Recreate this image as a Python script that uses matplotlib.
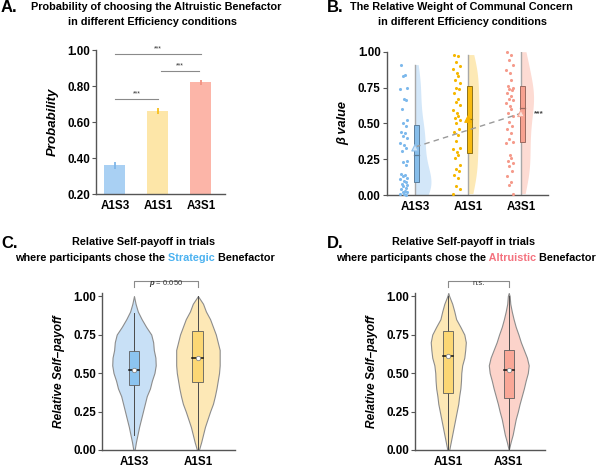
import matplotlib
matplotlib.use('Agg')
import matplotlib.pyplot as plt
from matplotlib.patches import Rectangle
import numpy as np

plt.rcParams['font.family'] = ['Liberation Sans', 'DejaVu Sans']
plt.rcParams['font.weight'] = 'bold'
plt.rcParams['mathtext.fontset'] = 'custom'
plt.rcParams['mathtext.it'] = 'Liberation Sans:italic'
plt.rcParams['mathtext.rm'] = 'Liberation Sans'

# ---------------- data ----------------
# A: probability of choosing the altruistic benefactor
conds_a = ['A1S3', 'A1S1', 'A3S1']
prob_mean = [0.36, 0.66, 0.82]
prob_se = [0.02, 0.018, 0.016]
sig_a_from = [1, 2.07, 1]
sig_a_to = [3, 2.95, 2]
sig_a_y = [0.98, 0.885, 0.727]
sig_a_txt = ['***', '***', '***']

# B: beta values per participant
conds_b = ['A1S3', 'A1S1', 'A3S1']
beta_a1s3 = [0.91, 0.84, 0.83, 0.75, 0.74, 0.67, 0.66, 0.60, 0.52, 0.50,
             0.48, 0.44, 0.43, 0.41, 0.40, 0.36, 0.35, 0.33, 0.31, 0.24,
             0.23, 0.21, 0.15, 0.14, 0.13, 0.12, 0.11, 0.10, 0.09, 0.08,
             0.07, 0.06, 0.05, 0.04, 0.03, 0.02, 0.02, 0.01, 0.01, 0.00]
beta_a1s1 = [0.98, 0.97, 0.93, 0.90, 0.88, 0.85, 0.83, 0.80, 0.78, 0.75,
             0.74, 0.71, 0.67, 0.65, 0.63, 0.59, 0.57, 0.55, 0.54, 0.52,
             0.50, 0.46, 0.44, 0.42, 0.38, 0.33, 0.32, 0.30, 0.28, 0.26,
             0.21, 0.18, 0.17, 0.14, 0.12, 0.06, 0.04, 0.01]
beta_a3s1 = [1.00, 0.98, 0.94, 0.91, 0.87, 0.85, 0.80, 0.76, 0.75, 0.74,
             0.73, 0.71, 0.69, 0.67, 0.66, 0.64, 0.62, 0.60, 0.57, 0.55,
             0.51, 0.48, 0.46, 0.43, 0.39, 0.37, 0.36, 0.28, 0.26, 0.24,
             0.22, 0.20, 0.17, 0.13, 0.09, 0.07, 0.01]
beta_q1 = [0.09, 0.29, 0.37]
beta_med = [0.28, 0.53, 0.61]
beta_q3 = [0.49, 0.76, 0.76]
beta_mean = [0.33, 0.53, 0.57]
trend_ends = [0.335, 0.57]

# C / D: relative self-payoff (violin outlines)
levels_c = [0.00, 0.05, 0.10, 0.15, 0.20, 0.25, 0.30, 0.35, 0.40, 0.45, 0.50,
            0.55, 0.60, 0.65, 0.70, 0.75, 0.80, 0.85, 0.90, 0.95, 1.00]
conds_c = ['A1S3', 'A1S1']
width_c_a1s3 = [0.01, 0.03, 0.055, 0.08, 0.11, 0.14, 0.17, 0.20, 0.25, 0.28, 0.32,
                0.34, 0.335, 0.31, 0.30, 0.27, 0.19, 0.12, 0.06, 0.025, 0.0]
width_c_a1s1 = [0.015, 0.05, 0.08, 0.11, 0.15, 0.19, 0.235, 0.265, 0.29, 0.31, 0.33,
                0.34, 0.34, 0.34, 0.31, 0.28, 0.235, 0.19, 0.125, 0.08, 0.0]
c_q1 = [0.42, 0.44]
c_med = [0.52, 0.60]
c_q3 = [0.64, 0.77]
c_mean = [0.52, 0.60]
c_lo = [0.10, 0.0]
c_hi = [0.89, 1.0]
c_p = '$p$ = 0.050'

levels_d = [0.00, 0.05, 0.10, 0.15, 0.20, 0.25, 0.30, 0.35, 0.40, 0.45, 0.50,
            0.55, 0.60, 0.65, 0.70, 0.75, 0.80, 0.85, 0.90, 0.95, 1.00, 1.02]
conds_d = ['A1S1', 'A3S1']
width_d_a1s1 = [0.015, 0.04, 0.065, 0.09, 0.115, 0.14, 0.165, 0.18, 0.2, 0.21, 0.215,
                0.23, 0.265, 0.28, 0.29, 0.265, 0.2, 0.13, 0.1, 0.065, 0.015, 0.0]
width_d_a3s1 = [0.0, 0.03, 0.065, 0.09, 0.115, 0.15, 0.18, 0.215, 0.25, 0.28, 0.315,
                0.33, 0.3, 0.25, 0.2, 0.16, 0.115, 0.08, 0.05, 0.025, 0.015, 0.0]
d_q1 = [0.37, 0.34]
d_med = [0.61, 0.52]
d_q3 = [0.77, 0.65]
d_mean = [0.61, 0.52]
d_lo = [0.0, 0.0]
d_hi = [1.0, 1.0]
d_p = 'n.s.'

# colours
bar_cols = ['#a9d0f3', '#fde6a8', '#fcb5a8']
err_cols = ['#7fb6e8', '#f7bf1e', '#f29282']
pt_cols = ['#7db9ec', '#f6b700', '#f59a8b']
vio_b_cols = ['#d3e7f9', '#fde9b5', '#fddbd3']
box_b_cols = ['#86bdea', '#f8bb10', '#f7a190']
box_b_edge = ['#5c7e9c', '#8c7019', '#9a6a60']
vio_c = {'A1S3': '#c8e0f6', 'A1S1': '#fde8b6', 'A3S1': '#fcd3ca'}
box_c = {'A1S3': '#8cc4f0', 'A1S1': '#fcd774', 'A3S1': '#f9a797'}

axis_col = '#555555'


def style_axis(ax):
    for s in ['top', 'right']:
        ax.spines[s].set_visible(False)
    for s in ['left', 'bottom']:
        ax.spines[s].set_color(axis_col)
        ax.spines[s].set_linewidth(1.0)
    ax.tick_params(axis='y', length=3, width=0.8, color=axis_col, labelsize=8.4, pad=1.5)
    ax.tick_params(axis='x', length=0, labelsize=8.4, pad=4)


def r_kde(vals, grid):
    v = np.asarray(vals)
    n = len(v)
    sd = v.std(ddof=1)
    iqr = np.subtract(*np.percentile(v, [75, 25]))
    bw = 0.9 * min(sd, iqr / 1.34) * n ** -0.2
    z = (grid[:, None] - v[None, :]) / bw
    return np.exp(-0.5 * z ** 2).sum(1) / (n * bw * np.sqrt(2 * np.pi))


fig = plt.figure(figsize=(6, 4.68), dpi=100)
H = 468.0

# ---------------- A ----------------
axA = fig.add_axes([0.16, 1 - 194 / H, 0.215, 144 / H])
xa = np.arange(1, len(conds_a) + 1)
axA.bar(xa, prob_mean, width=0.49, color=bar_cols, zorder=1)
axA.vlines(xa, np.array(prob_mean) - prob_se, np.array(prob_mean) + prob_se,
           colors=err_cols, lw=1.3, zorder=2)
for x0, x1, y, t in zip(sig_a_from, sig_a_to, sig_a_y, sig_a_txt):
    axA.plot([x0, x1], [y, y], color='#8a8a8a', lw=0.8)
    axA.text((x0 + x1) / 2, y + 0.008, t, ha='center', va='bottom', fontsize=5,
             color='#333333', weight='normal')
axA.set_xlim(0.56, 3.56)
axA.set_ylim(0.2, 1.0)
axA.set_yticks([0.2, 0.4, 0.6, 0.8, 1.0])
axA.set_yticklabels(['%.2f' % v for v in [0.2, 0.4, 0.6, 0.8, 1.0]])
axA.set_xticks(xa)
axA.set_xticklabels(conds_a)
axA.set_ylabel('Probability', fontsize=9.5, style='italic', weight='bold', labelpad=6)
style_axis(axA)

# ---------------- B ----------------
axB = fig.add_axes([0.645, 1 - 195 / H, 0.2683, 143.3 / H])
groups_b = [beta_a1s3, beta_a1s1, beta_a3s1]
grids = [np.linspace(min(g), max(g), 120) for g in groups_b]
dens = [r_kde(g, gr) for g, gr in zip(groups_b, grids)]
k = 0.3 / max(d.max() for d in dens)
jitter = [-0.05, 0.02, -0.02, 0.05, -0.07, 0.0, 0.03, -0.03, 0.06, -0.01, 0.04]
for i, g in enumerate(groups_b):
    x = i + 1
    axB.fill_betweenx(grids[i], x, x + dens[i] * k, color=vio_b_cols[i], lw=0, zorder=1)
    axB.plot([x, x], [min(g), max(g)], color='#a8a8a8', lw=1.0, zorder=2)
    jx = x - 0.21 + np.resize(jitter, len(g))
    axB.scatter(jx, g, s=5, color=pt_cols[i], lw=0, zorder=3, clip_on=False)
    axB.add_patch(Rectangle((x - 0.02, beta_q1[i]), 0.1, beta_q3[i] - beta_q1[i],
                            fc=box_b_cols[i], ec=box_b_edge[i], lw=0.7, zorder=3))
    axB.plot([x - 0.02, x + 0.08], [beta_med[i], beta_med[i]], color=box_b_edge[i],
             lw=0.9, zorder=4)
axB.plot([1, 3], trend_ends, ls='--', dashes=(4, 3), color='#9a9a9a', lw=1.0, zorder=5)
axB.scatter([1, 2, 3], beta_mean, marker='^', s=22, color=['#cfe4f7', '#f8b400', '#fde0d8'],
            edgecolors=['#8ec0ec', '#f8b400', '#f6a898'], lw=0.8, zorder=6)
axB.text(3.33, 0.565, '***', ha='center', va='center', fontsize=6, color='#444444')
axB.set_xlim(0.47, 3.51)
axB.set_ylim(0, 1.0)
axB.set_yticks([0, 0.25, 0.5, 0.75, 1.0])
axB.set_yticklabels(['%.2f' % v for v in [0, 0.25, 0.5, 0.75, 1.0]])
axB.set_xticks([1, 2, 3])
axB.set_xticklabels(conds_b)
axB.set_ylabel('β value', fontsize=9.2, style='italic', weight='bold', labelpad=6)
style_axis(axB)


# ---------------- C / D ----------------
def violin_panel(ax, conds, levels, widths, q1, med, q3, mean, lo, hi, ptxt):
    for i, c in enumerate(conds):
        x = i + 1
        w = np.asarray(widths[i])
        ax.fill_betweenx(levels, x - w, x + w, color=vio_c[c], ec='#8c8c8c', lw=0.8, zorder=1)
        ax.plot([x, x], [lo[i], hi[i]], color='#4a4a4a', lw=0.7, zorder=2)
        ax.add_patch(Rectangle((x - 0.085, q1[i]), 0.17, q3[i] - q1[i], fc=box_c[c],
                               ec='#5e5e5e', lw=0.6, zorder=3))
        ax.plot([x - 0.085, x + 0.085], [med[i], med[i]], color='#111111', lw=1.1, zorder=4)
        ax.scatter([x], [mean[i]], s=10, color='white', edgecolors='#888888', lw=0.6, zorder=5)
    ax.plot([1, 1, 2, 2], [1.06, 1.10, 1.10, 1.06], color='#8a8a8a', lw=0.8, clip_on=False)
    ax.text(1.5, 1.082, ptxt, ha='center', va='center', fontsize=5.5, color='#333333',
            weight='normal')
    ax.set_ylim(0, 1.02)
    ax.set_yticks([0, 0.25, 0.5, 0.75, 1.0])
    ax.set_yticklabels(['%.2f' % v for v in [0, 0.25, 0.5, 0.75, 1.0]])
    ax.set_xticks([1, 2])
    ax.set_xticklabels(conds)
    ax.set_ylabel('Relative Self–payoff', fontsize=8.6, style='italic', weight='bold',
                  labelpad=6)
    style_axis(ax)


axC = fig.add_axes([0.17, 1 - 450 / H, 0.2217, 157 / H])
violin_panel(axC, conds_c, levels_c, [width_c_a1s3, width_c_a1s1],
             c_q1, c_med, c_q3, c_mean, c_lo, c_hi, c_p)
axC.set_xlim(0.5, 2.58)

axD = fig.add_axes([0.6917, 1 - 450 / H, 0.2167, 157 / H])
violin_panel(axD, conds_d, levels_d, [width_d_a1s1, width_d_a3s1],
             d_q1, d_med, d_q3, d_mean, d_lo, d_hi, d_p)
axD.set_xlim(0.45, 2.6)

# ---------------- titles ----------------
tsize = 7.8


def fy(px):
    return 1 - px / H


fig.text(1 / 600, fy(8), 'A.', fontsize=12, ha='left', va='center')
fig.text(156 / 600, fy(7), 'Probability of choosing the Altruistic Benefactor', fontsize=tsize,
         ha='center', va='center')
fig.text(152 / 600, fy(22), 'in different Efficiency conditions', fontsize=tsize,
         ha='center', va='center')

fig.text(327 / 600, fy(8), 'B.', fontsize=12, ha='left', va='center')
fig.text(461 / 600, fy(7), 'The Relative Weight of Communal Concern', fontsize=tsize,
         ha='center', va='center')
fig.text(462 / 600, fy(22), 'in different Efficiency conditions', fontsize=tsize,
         ha='center', va='center')

fig.text(1 / 600, fy(243), 'C.', fontsize=12, ha='left', va='center')
fig.text(144 / 600, fy(242), 'Relative Self-payoff in trials', fontsize=tsize,
         ha='center', va='center')

fig.text(327 / 600, fy(243), 'D.', fontsize=12, ha='left', va='center')
fig.text(464 / 600, fy(242), 'Relative Self-payoff in trials', fontsize=tsize,
         ha='center', va='center')


def colored_line(ax, xc, y, parts):
    t0 = fig.text(0, y, parts[0][0], color=parts[0][1], fontsize=tsize, ha='left', va='center')
    pieces = [t0]
    for s, c in parts[1:]:
        t = ax.annotate(s, xy=(1, 0), xycoords=pieces[-1], va='bottom', ha='left', color=c,
                        fontsize=tsize, annotation_clip=False)
        pieces.append(t)
    fig.canvas.draw()
    x0 = pieces[0].get_window_extent().x0
    x1 = pieces[-1].get_window_extent().x1
    w = (x1 - x0) / fig.bbox.width
    t0.set_x(xc - w / 2)


colored_line(axC, 145 / 600, fy(258), [('where participants chose the', 'black'),
                                        (' Strategic', '#4cb2f0'), (' Benefactor', 'black')])
colored_line(axD, 466 / 600, fy(258), [('where participants chose the', 'black'),
                                        (' Altruistic', '#f4727f'), (' Benefactor', 'black')])

fig.savefig('out.png', dpi=100)
